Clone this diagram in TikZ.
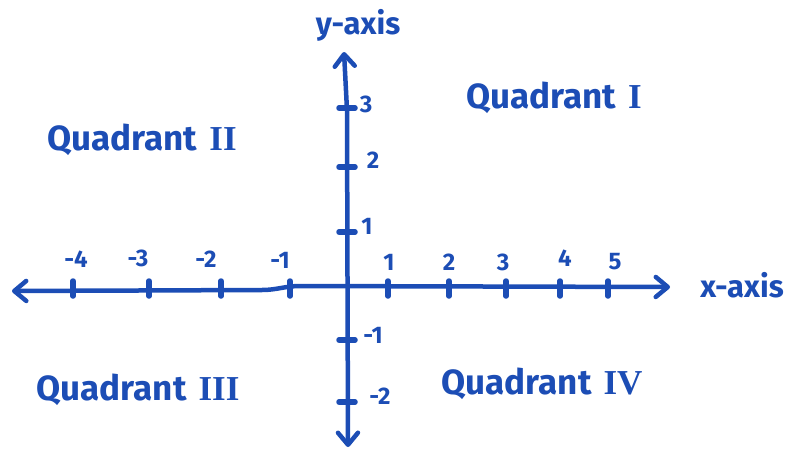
\documentclass[tikz,border=0pt]{standalone}
\usepackage{fontspec}
\setmainfont{Fira Sans}
\newfontfamily\numeralfont{Liberation Serif}
\usetikzlibrary{arrows.meta}

\begin{document}
\begin{tikzpicture}[x=1pt,y=-1pt,font=\rmfamily\fontsize{20}{22}\selectfont]
  \definecolor{ink}{HTML}{1C4DB5}
  \tikzset{
    axisline/.style={ink,line width=4.5pt,line cap=round,line join=round,
      arrows={Straight Barb[length=12pt,width=20pt,round]-Straight Barb[length=12pt,width=20pt,round]}},
    tickmark/.style={ink,line width=5.5pt,line cap=round},
    ticklabel/.style={text=ink,font=\rmfamily\bfseries\fontsize{24}{26}\selectfont},
    quadlabel/.style={text=ink,font=\rmfamily\bfseries\fontsize{35}{38}\selectfont},
    axislabel/.style={text=ink,font=\rmfamily\bfseries\fontsize{31}{34}\selectfont}
  }
  \useasboundingbox (0,0) rectangle (794,450);
  % axes
  \coordinate (xleft) at (12,291);
  \coordinate (xright) at (670,287);
  \coordinate (ytop) at (344,52);
  \coordinate (ybottom) at (348,447);
  \draw[axisline] (xleft) -- (262,290) to[out=0,in=180] (300,286) -- (xright);
  \draw[axisline] (ytop) -- (347,110) -- (ybottom);
  % ticks on the x-axis
  \foreach \x/\t/\lx/\ly in {73/-4/76/259,149/-3/138/258,221/-2/206/259,290/-1/280/260,
                             388/1/389/262,449/2/449/262,506/3/503/262,560/4/565/258,608/5/615/262}{
    \draw[tickmark] (\x,281) -- (\x,296);
    \node[ticklabel] (xlab\t) at (\lx,\ly) {\t};
  }
  % ticks on the y-axis
  \foreach \y/\t/\lx/\ly in {108/3/366/104,167/2/373/160,232/1/367/226,340/-1/373/335,402/-2/380/396}{
    \draw[tickmark] (339,\y) -- (355,\y);
    \node[ticklabel] (ylab\t) at (\lx,\ly) {\t};
  }
  % axis names
  \node[axislabel] (xname) at (742,285) {x-axis};
  \node[axislabel] (yname) at (358,25) {y-axis};
  % quadrants
  \node[quadlabel] (quadI) at (554,98) {Quadrant\hspace{12pt}{\numeralfont I}};
  \node[quadlabel] (quadII) at (142,140) {Quadrant\hspace{12pt}{\numeralfont II}};
  \node[quadlabel] (quadIII) at (138,390) {Quadrant\hspace{12pt}{\numeralfont III}};
  \node[quadlabel] (quadIV) at (542,384) {Quadrant\hspace{12pt}{\numeralfont IV}};
\end{tikzpicture}
\end{document}
